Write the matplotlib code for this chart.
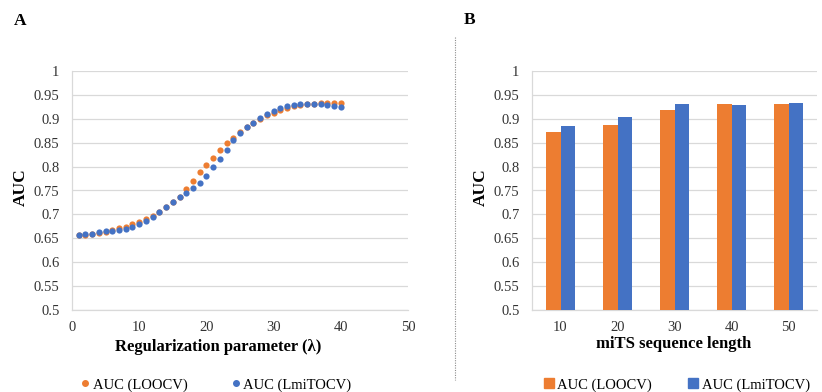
import matplotlib.pyplot as plt
from matplotlib.lines import Line2D
import numpy as np

plt.rcParams['font.family'] = ['Liberation Serif', 'DejaVu Serif']

ORANGE = '#ED7D31'
BLUE = '#4472C4'
GRID = '#D9D9D9'

# panel A: AUC vs regularization parameter
lam = list(range(1, 41))
auc_loocv = [0.657, 0.657, 0.660, 0.662, 0.664, 0.667, 0.671, 0.674, 0.679, 0.684,
             0.691, 0.697, 0.706, 0.716, 0.726, 0.737, 0.754, 0.769, 0.788, 0.804,
             0.819, 0.835, 0.849, 0.860, 0.872, 0.882, 0.891, 0.900, 0.907, 0.913,
             0.918, 0.923, 0.926, 0.929, 0.931, 0.932, 0.933, 0.933, 0.933, 0.933]
auc_lmitocv = [0.657, 0.659, 0.660, 0.664, 0.665, 0.666, 0.667, 0.669, 0.674, 0.679,
               0.687, 0.694, 0.705, 0.716, 0.725, 0.736, 0.745, 0.756, 0.766, 0.781,
               0.799, 0.816, 0.835, 0.856, 0.870, 0.882, 0.892, 0.902, 0.909, 0.916,
               0.922, 0.926, 0.929, 0.931, 0.932, 0.932, 0.931, 0.929, 0.926, 0.924]

# panel B: AUC vs miTS sequence length
seq_len = ['10', '20', '30', '40', '50']
bar_loocv = [0.873, 0.887, 0.919, 0.930, 0.931]
bar_lmitocv = [0.884, 0.904, 0.930, 0.929, 0.933]

yticks = np.arange(0.5, 1.0001, 0.05)
ylabels = ['0.5', '0.55', '0.6', '0.65', '0.7', '0.75', '0.8', '0.85', '0.9', '0.95', '1']


def style_axis(ax):
    ax.set_ylim(0.5, 1.0)
    ax.set_yticks(yticks)
    ax.set_yticklabels(ylabels)
    ax.grid(axis='y', color=GRID, linewidth=0.9)
    ax.set_axisbelow(True)
    for s in ['top', 'right']:
        ax.spines[s].set_visible(False)
    for s in ['left', 'bottom']:
        ax.spines[s].set_color(GRID)
        ax.spines[s].set_linewidth(0.9)
    ax.tick_params(length=0, labelsize=10.5, colors='#333333')
    ax.tick_params(axis='y', pad=9)
    ax.tick_params(axis='x', pad=8)


fig = plt.figure(figsize=(8.22, 3.92), dpi=100)

axA = fig.add_axes([72 / 822, 1 - 310 / 392, (408 - 72) / 822, (310 - 71) / 392])
axA.scatter(lam, auc_loocv, s=20, color=ORANGE, zorder=3, linewidths=0)
axA.scatter(lam, auc_lmitocv, s=20, color=BLUE, zorder=4, linewidths=0)
axA.set_xlim(0, 50)
axA.set_xticks(range(0, 51, 10))
style_axis(axA)

axB = fig.add_axes([532 / 822, 1 - 310 / 392, (817 - 532) / 822, (310 - 71) / 392])
x = np.arange(len(seq_len))
w = 0.25
axB.bar(x - w / 2, np.array(bar_loocv) - 0.5, w, bottom=0.5, color=ORANGE, zorder=3)
axB.bar(x + w / 2, np.array(bar_lmitocv) - 0.5, w, bottom=0.5, color=BLUE, zorder=3)
axB.set_xlim(-0.5, len(seq_len) - 0.5)
axB.set_xticks(x)
axB.set_xticklabels(seq_len)
style_axis(axB)

# axis titles
fig.text(218 / 822, 1 - 347 / 392, 'Regularization parameter (\u03bb)', ha='center', va='center',
         fontsize=12, fontweight='bold')
fig.text(674 / 822, 1 - 344 / 392, 'miTS sequence length', ha='center', va='center',
         fontsize=12, fontweight='bold')
fig.text(21 / 822, 1 - 187 / 392, 'AUC', rotation=90, ha='center', va='center',
         fontsize=12.5, fontweight='bold')
fig.text(481 / 822, 1 - 187 / 392, 'AUC', rotation=90, ha='center', va='center',
         fontsize=12.5, fontweight='bold')

# panel letters
fig.text(20 / 822, 1 - 21 / 392, 'A', ha='center', va='center', fontsize=12.5, fontweight='bold')
fig.text(470 / 822, 1 - 20 / 392, 'B', ha='center', va='center', fontsize=12.5, fontweight='bold')

# divider
fig.add_artist(Line2D([455 / 822, 455 / 822], [1 - 37 / 392, 1 - 380 / 392],
                      color='#8C8C8C', linewidth=0.8, linestyle=(0, (1, 1.2))))

# legends
handlesA = [Line2D([], [], marker='o', linestyle='', color=ORANGE, markersize=4),
            Line2D([], [], marker='o', linestyle='', color=BLUE, markersize=4)]
fig.legend(handlesA, ['AUC (LOOCV)', 'AUC (LmiTOCV)'], loc='center',
           bbox_to_anchor=(216 / 822, 1 - 385 / 392), ncol=2, frameon=False,
           fontsize=10.5, handlelength=0.6, handletextpad=0.2, columnspacing=3.0,
           borderpad=0, borderaxespad=0)

handlesB = [Line2D([], [], marker='s', linestyle='', color=ORANGE, markersize=6.5),
            Line2D([], [], marker='s', linestyle='', color=BLUE, markersize=6.5)]
fig.legend(handlesB, ['AUC (LOOCV)', 'AUC (LmiTOCV)'], loc='center',
           bbox_to_anchor=(677 / 822, 1 - 385 / 392), ncol=2, frameon=False,
           fontsize=10.5, handlelength=0.6, handletextpad=0.3, columnspacing=2.5,
           borderpad=0, borderaxespad=0)

fig.savefig('out.png', dpi=100)
